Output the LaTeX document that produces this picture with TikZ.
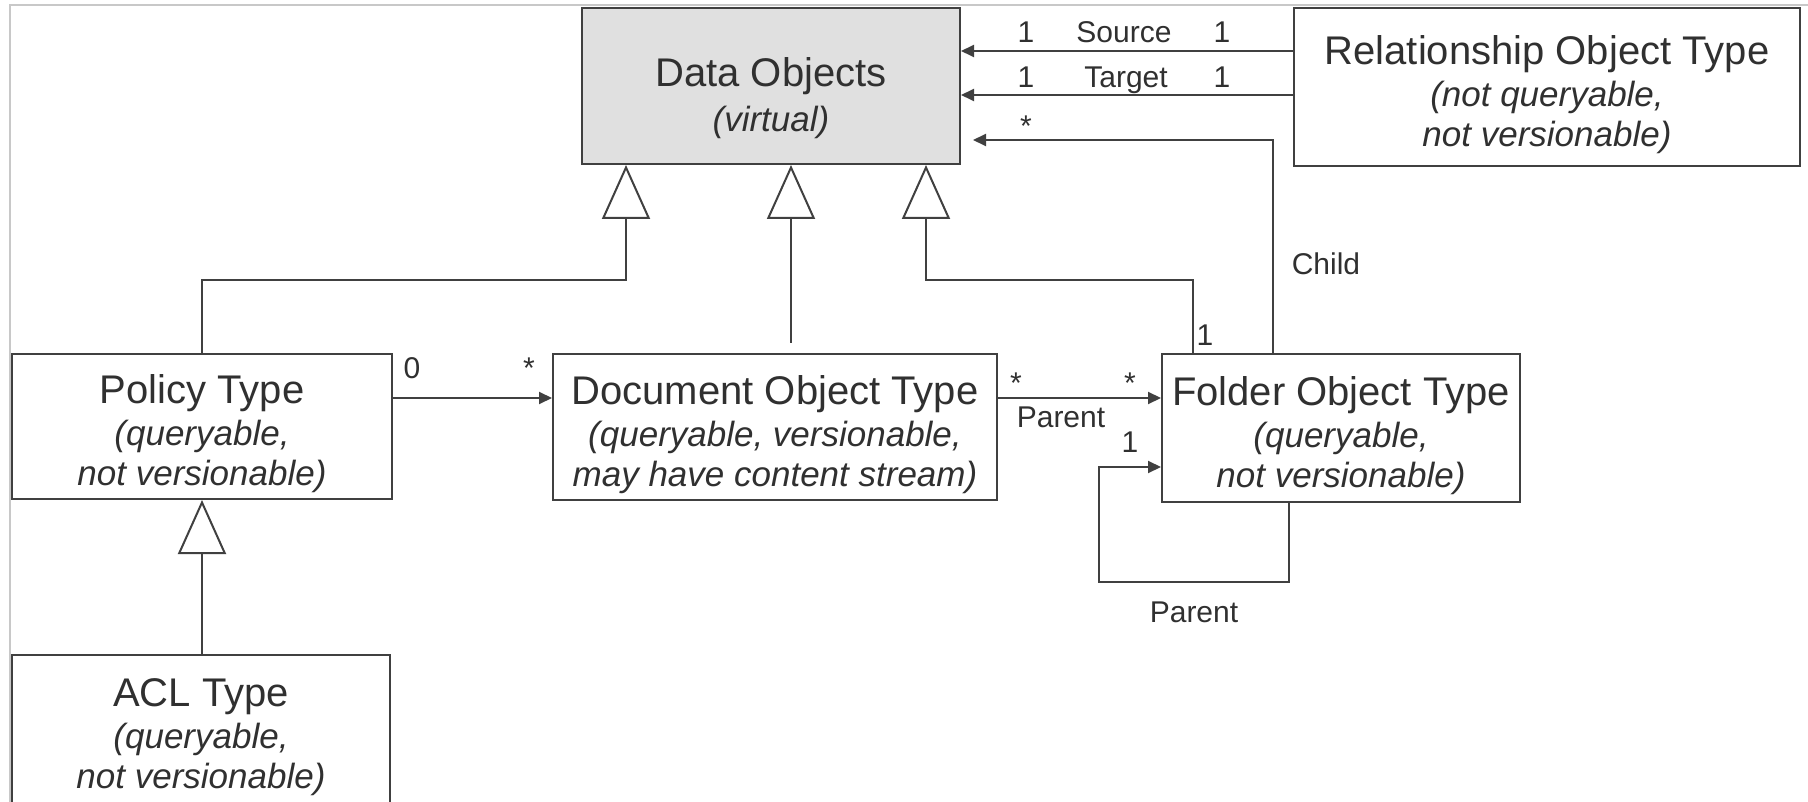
\documentclass[tikz,border=0pt]{standalone}
\usepackage{fontspec}
\setmainfont{Liberation Sans}
\usepackage{tikz}
\usetikzlibrary{arrows.meta}
\definecolor{linegray}{RGB}{64,64,64}
\definecolor{txtgray}{RGB}{48,48,48}
\definecolor{virtgray}{RGB}{224,224,224}
\definecolor{framegray}{RGB}{200,200,200}
\newcommand{\typefont}{\fontsize{40}{40}\selectfont}
\newcommand{\notefont}{\fontsize{35}{40}\selectfont\itshape}
\newcommand{\labfont}{\fontsize{30}{34}\selectfont}
\newcommand{\titlestrut}{\rule{0pt}{44pt}}
\tikzset{
	cls/.style={draw=linegray, line width=2pt, text=txtgray, align=center, inner sep=0pt, font=\typefont},
	isa/.style={draw=linegray, line width=2pt, -{Triangle[length=54pt,width=48pt,fill=white]}},
	assoc/.style={draw=linegray, line width=2pt, -{Triangle[length=13pt,width=12pt]}},
	lab/.style={font=\labfont, text=txtgray, anchor=base, inner sep=0pt}
}

\begin{document}
\begin{tikzpicture}[x=1pt, y=-1pt]
	\useasboundingbox (0,0) rectangle (1808,802);
	\draw[framegray, line width=1.5pt] (10,802) -- (10,5) -- (1808,5);

	\node[cls, fill=virtgray, minimum width=378pt, minimum height=156pt] (data) at (771,86)
		{\rule{0pt}{53pt}Data Objects\\[5pt]\notefont (virtual)};
	\node[cls, minimum width=506pt, minimum height=158pt] (rel) at (1547,87)
		{\titlestrut Relationship Object Type\\[2pt]\notefont (not queryable,\\\notefont not versionable)};
	\node[cls, minimum width=380pt, minimum height=145pt] (policy) at (202,426.5)
		{\titlestrut Policy Type\\[2pt]\notefont (queryable,\\\notefont not versionable)};
	\node[cls, minimum width=444pt, minimum height=146pt] (doc) at (775,427)
		{\titlestrut Document Object Type\\[2pt]\notefont (queryable, versionable,\\\notefont may have content stream)};
	\node[cls, minimum width=358pt, minimum height=148pt] (folder) at (1341,428)
		{\titlestrut Folder Object Type\\[2pt]\notefont (queryable,\\\notefont not versionable)};
	\node[cls, minimum width=378pt, minimum height=148pt] (acl) at (201,729)
		{\titlestrut ACL Type\\[2pt]\notefont (queryable,\\\notefont not versionable)};

	\coordinate (ysrc) at (0,51);
	\coordinate (ytgt) at (0,95);
	\coordinate (ychild) at (0,140);
	\coordinate (bar) at (0,280);
	\coordinate (ypd) at (0,398);
	\coordinate (inhP) at ([xshift=-145pt]data.south);
	\coordinate (inhD) at ([xshift=20pt]data.south);
	\coordinate (inhF) at ([xshift=155pt]data.south);
	\coordinate (dtop) at ([yshift=10pt]doc.north);
	\coordinate (fL) at ([xshift=-148pt]folder.north);
	\coordinate (fC) at ([xshift=-68pt]folder.north);
	\coordinate (lpS) at ([xshift=-52pt]folder.south);
	\coordinate (lpc) at (1099,582);
	\coordinate (lpE) at ([yshift=-39pt]folder.west);

	% generalisations
	\draw[isa] (policy.north) |- (inhP |- bar) -- (inhP);
	\draw[isa] (dtop -| inhD) -- (inhD);
	\draw[isa] (fL) |- (inhF |- bar) -- (inhF);
	\draw[isa] (acl.north -| policy.south) -- (policy.south);

	% associations
	\draw[assoc] (rel.west |- ysrc) -- (data.east |- ysrc);
	\draw[assoc] (rel.west |- ytgt) -- (data.east |- ytgt);
	\draw[assoc, shorten >=12pt] (fC) |- (data.east |- ychild);
	\draw[assoc] (policy.east |- ypd) -- (doc.west |- ypd);
	\draw[assoc] (doc.east |- ypd) -- (folder.west |- ypd);
	\draw[assoc] (lpS) |- (lpc) |- (lpE);

	\node[lab] (s1) at (1026,43) {1};
	\node[lab] (sname) at (1124,43) {Source};
	\node[lab] (s2) at (1222,43) {1};
	\node[lab] (t1) at (1026,88) {1};
	\node[lab] (tname) at (1126,88) {Target};
	\node[lab] (t2) at (1222,88) {1};
	\node[lab] (cstar) at (1026,137) {*};
	\node[lab] (cname) at (1326,275) {Child};
	\node[lab] (cone) at (1205,345) {1};
	\node[lab] (pzero) at (412,378) {0};
	\node[lab] (pstar) at (529,378) {*};
	\node[lab] (dstar) at (1016,393) {*};
	\node[lab] (fstar) at (1130,393) {*};
	\node[lab] (dpar) at (1061,428) {Parent};
	\node[lab] (lone) at (1130,452) {1};
	\node[lab] (lpar) at (1194,622) {Parent};
\end{tikzpicture}
\end{document}
